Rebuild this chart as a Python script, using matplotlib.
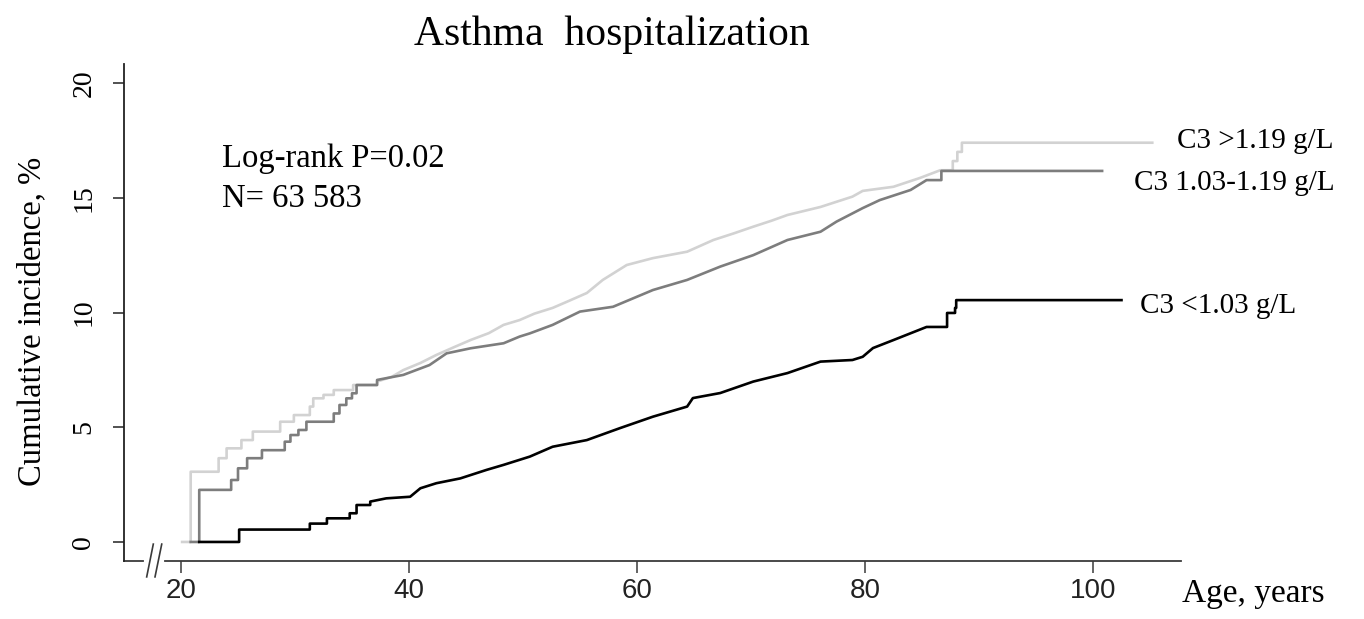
import matplotlib
matplotlib.use("Agg")
import matplotlib.pyplot as plt

# Kaplan-Meier style cumulative incidence (age in years, %)
age_hi = [20.1, 20.85, 23.3, 24.0, 25.3, 26.3, 28.7, 29.9, 31.3, 31.6, 32.5, 33.4,
          35.1, 37.2, 38.5, 39.5, 41.0, 42.4, 44.0, 45.4, 47.0, 48.3, 49.7, 51.0,
          52.6, 54.0, 55.6, 57.0, 59.1, 61.4, 64.4, 66.7, 68.5, 70.2, 71.8, 73.2,
          76.1, 78.9, 79.8, 82.5, 84.8, 86.6, 87.7, 88.1, 88.5, 105.2]
inc_hi = [0.0, 3.06, 3.65, 4.08, 4.44, 4.81, 5.24, 5.53, 5.9, 6.26, 6.41, 6.62,
          6.84, 6.99, 7.2, 7.49, 7.8, 8.15, 8.5, 8.8, 9.1, 9.46, 9.67, 9.95,
          10.2, 10.5, 10.85, 11.42, 12.07, 12.37, 12.65, 13.16, 13.45, 13.74, 14.0, 14.25,
          14.6, 15.05, 15.3, 15.48, 15.86, 16.2, 16.6, 17.0, 17.4, 17.4]

age_mid = [20.85, 21.6, 24.4, 25.0, 25.8, 27.1, 29.1, 29.6, 30.3, 31.0, 33.4, 33.9,
           34.5, 35.0, 35.4, 37.2, 39.5, 41.8, 43.3, 45.4, 48.3, 49.7, 50.6, 52.6,
           55.0, 57.9, 61.4, 64.4, 67.3, 70.2, 73.2, 76.1, 77.5, 79.8, 81.3, 84.0,
           85.4, 86.7, 100.8]
inc_mid = [0.0, 2.27, 2.7, 3.21, 3.65, 4.0, 4.37, 4.66, 4.88, 5.24, 5.6, 5.97,
           6.26, 6.48, 6.84, 7.06, 7.28, 7.71, 8.22, 8.44, 8.66, 8.95, 9.09, 9.46,
           10.04, 10.25, 10.98, 11.42, 12.0, 12.5, 13.16, 13.52, 13.96, 14.55, 14.9, 15.34,
           15.77, 16.17, 16.17]

age_lo = [21.6, 25.1, 31.3, 32.8, 34.8, 35.4, 36.6, 38.0, 40.1, 41.0, 42.4, 44.5,
          46.8, 48.3, 50.6, 52.6, 55.6, 58.5, 61.4, 64.4, 64.9, 67.3, 70.2, 73.2,
          76.1, 78.9, 79.8, 80.7, 82.5, 85.4, 87.2, 87.9, 88.0, 102.5]
inc_lo = [0.0, 0.54, 0.8, 1.03, 1.25, 1.61, 1.76, 1.9, 1.97, 2.34, 2.56, 2.77,
          3.14, 3.36, 3.72, 4.15, 4.44, 4.96, 5.46, 5.9, 6.27, 6.49, 6.99, 7.36,
          7.86, 7.93, 8.07, 8.45, 8.8, 9.37, 9.98, 10.2, 10.54, 10.54]

group_labels = ["C3 >1.19 g/L", "C3 1.03-1.19 g/L", "C3 <1.03 g/L"]
x_ticks = [20, 40, 60, 80, 100]
y_ticks = [0, 5, 10, 15, 20]

serif = "Liberation Serif"
sans = "Liberation Sans"
axis_col = "#3a3a3a"


def km_path(ages, vals, dense_from, dense_to):
    # sparse events drawn as steps, the dense middle part (many tiny steps) as a line
    xs, ys = [ages[0]], [vals[0]]
    for i in range(1, len(ages)):
        if not (dense_from <= ages[i - 1] and ages[i] <= dense_to):
            xs.append(ages[i])
            ys.append(vals[i - 1])
        xs.append(ages[i])
        ys.append(vals[i])
    return xs, ys


fig = plt.figure(figsize=(13.64, 6.19), dpi=100)
ax = fig.add_axes([124 / 1364, 58 / 619, 1057 / 1364, 497 / 619])

x, y = km_path(age_hi, inc_hi, 37.0, 86.7)
ax.plot(x, y, color="#d2d2d2", lw=1.9)
x, y = km_path(age_mid, inc_mid, 37.0, 85.5)
ax.plot(x, y, color="#7d7d7d", lw=1.9)
x, y = km_path(age_lo, inc_lo, 36.5, 85.5)
ax.plot(x, y, color="black", lw=1.9)

ax.set_xlim(15.0, 107.72)
ax.set_ylim(-0.83, 20.83)

# spines: only left and a broken bottom axis
for s in ["top", "right"]:
    ax.spines[s].set_visible(False)
ax.spines["left"].set_color("#222222")
ax.spines["left"].set_linewidth(1.3)
ax.spines["bottom"].set_color(axis_col)
ax.spines["bottom"].set_linewidth(1.3)
ax.spines["bottom"].set_bounds(18.6, 107.72)
xt = ax.get_xaxis_transform()
ax.plot([15.0, 16.69], [0, 0], transform=xt, color=axis_col, lw=1.3, clip_on=False)
ax.plot([16.99, 17.57], [-0.032, 0.034], transform=xt, color=axis_col, lw=1.2, clip_on=False)
ax.plot([17.72, 18.31], [-0.032, 0.034], transform=xt, color=axis_col, lw=1.2, clip_on=False)

ax.set_xticks(x_ticks)
ax.set_yticks(y_ticks)
ax.tick_params(axis="x", length=8.6, width=1.1, color=axis_col, pad=3.5,
               labelsize=20, labelfontfamily=sans, labelcolor="#222222")
ax.tick_params(axis="y", length=7.9, width=1.1, color="#222222", pad=12,
               labelsize=20, labelfontfamily=serif, labelrotation=90)
for lbl in ax.get_yticklabels():
    lbl.set_va("center")
    lbl.set_ha("right")

ax.set_ylabel("Cumulative incidence, %", fontsize=23.5, family=serif)
ax.yaxis.set_label_coords(-0.0728, 0.482)
ax.set_xlabel("Age, years", fontsize=24, family=serif)
ax.xaxis.set_label_coords(1.0686, -0.036)

ax.set_title("Asthma  hospitalization", x=0.4617, y=1.038, pad=0, fontsize=30, family=serif)

ax.text(23.56, 16.35, "Log-rank P=0.02", fontsize=23.5, family=serif, va="baseline")
ax.text(23.56, 14.6, "N= 63 583", fontsize=23.5, family=serif, va="baseline")

label_x = [107.4, 103.6, 104.1]
label_y = [17.17, 15.34, 9.98]
for lab, lx, ly in zip(group_labels, label_x, label_y):
    ax.text(lx, ly, lab, fontsize=21, family=serif, va="baseline", ha="left", clip_on=False)

fig.savefig("out.png", dpi=100)
